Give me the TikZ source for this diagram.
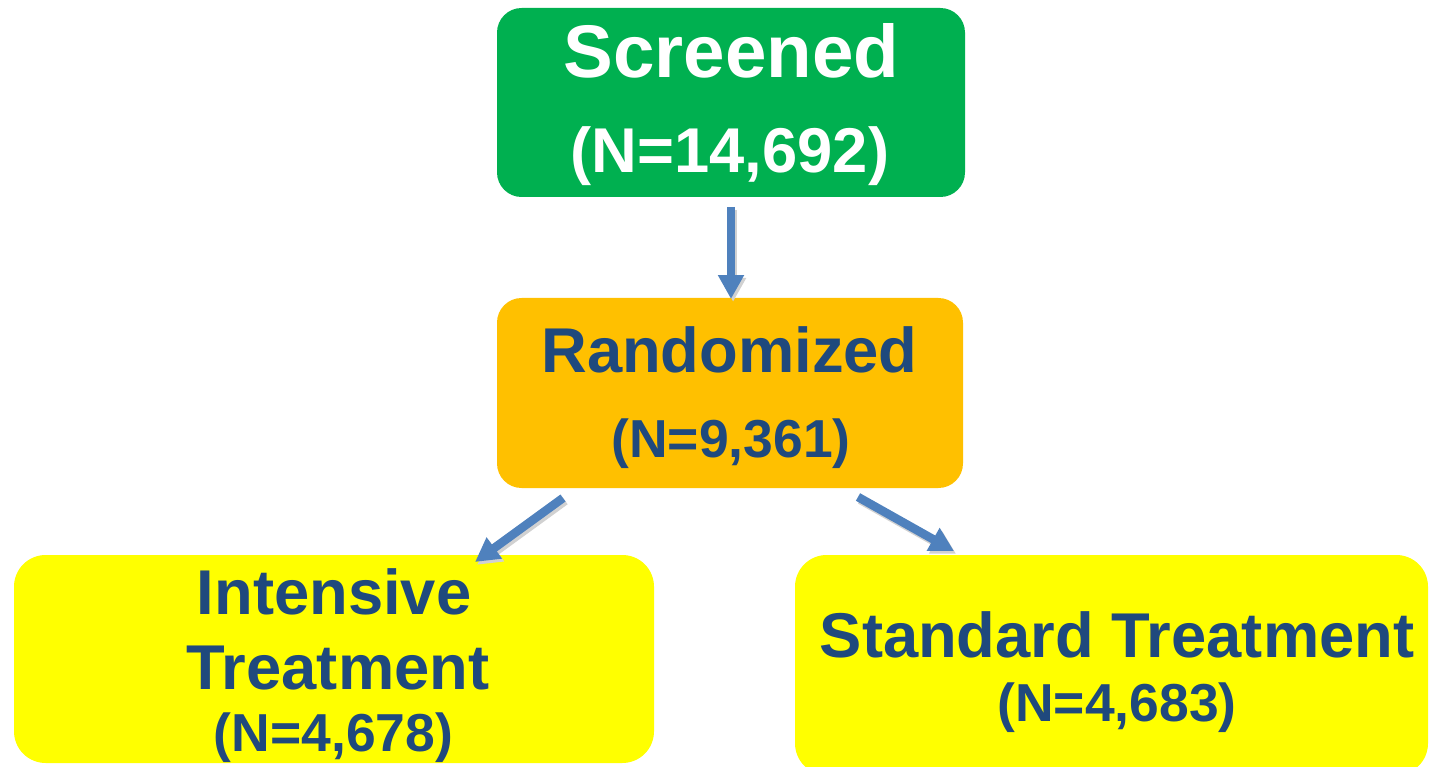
\documentclass[tikz,border=0pt]{standalone}
\usepackage{fontspec}
\setmainfont{Liberation Sans}
\usetikzlibrary{arrows.meta}
\definecolor{boxgreen}{RGB}{0,176,80}
\definecolor{boxorange}{RGB}{255,192,0}
\definecolor{boxyellow}{RGB}{255,255,0}
\definecolor{txtblue}{RGB}{31,73,125}
\definecolor{arrblue}{RGB}{79,129,189}
\tikzset{
  box/.style={draw=none, rectangle, rounded corners=#1, inner sep=0pt},
  lbl/.style={anchor=base, inner sep=0pt, font=\bfseries, text=txtblue},
  flow/.style={draw=arrblue, line width=2.45pt, -{Triangle[width=7pt,length=6.8pt]}},
  flowshadow/.style={draw=black!18, line width=2.45pt, -{Triangle[width=7pt,length=6.8pt]}},
}
\begin{document}
\begin{tikzpicture}[x=0.01cm,y=-0.01cm]
\useasboundingbox (0,0) rectangle (1430,767);
\clip (0,0) rectangle (1430,767);
% boxes
\fill[boxgreen, rounded corners=7pt] (497,8) rectangle (965,197);
\node[box=7pt, minimum width=468*0.01cm, minimum height=189*0.01cm] (scr) at (731,102.5) {};
\fill[boxorange, rounded corners=7pt] (497,298) rectangle (963,488);
\node[box=7pt, minimum width=466*0.01cm, minimum height=190*0.01cm] (rnd) at (730,393) {};
\fill[boxyellow, rounded corners=9pt] (14,555) rectangle (654,763);
\node[box=9pt, minimum width=640*0.01cm, minimum height=208*0.01cm] (int) at (334,659) {};
\fill[boxyellow, rounded corners=9pt] (795,555) rectangle (1428,775);
\node[box=9pt, minimum width=633*0.01cm, minimum height=220*0.01cm] (std) at (1111.5,665) {};
% texts
\node[lbl, text=white, font=\bfseries\fontsize{21.2}{25}\selectfont] (t1) at (731.5,78) {Screened};
\node[lbl, text=white, font=\bfseries\fontsize{18}{22}\selectfont] (t2) at (730,173) {(N=14,692)};
\node[lbl, font=\bfseries\fontsize{18}{22}\selectfont] (t3) at (729.5,372) {Randomized};
\node[lbl, font=\bfseries\fontsize{15.2}{18}\selectfont] (t4) at (731,457) {(N=9,361)};
\node[lbl, font=\bfseries\fontsize{18}{22}\selectfont] (t5) at (334,614) {Intensive};
\node[lbl, font=\bfseries\fontsize{18}{22}\selectfont] (t6) at (338,689) {Treatment};
\node[lbl, font=\bfseries\fontsize{15.2}{18}\selectfont] (t7) at (333.5,751) {(N=4,678)};
\node[lbl, font=\bfseries\fontsize{18}{22}\selectfont] (t8) at (1117,657) {Standard Treatment};
\node[lbl, font=\bfseries\fontsize{15.2}{18}\selectfont] (t9) at (1117,721) {(N=4,683)};
% arrows
\coordinate (a1s) at (731,207);
\coordinate (a1e) at (731,299);
\coordinate (a2s) at (563,498);
\coordinate (a2e) at (475,562);
\coordinate (a3s) at (858,497);
\coordinate (a3e) at (954,551);
\draw[flowshadow, transform canvas={xshift=0.6pt,yshift=-0.8pt}] (a1s) -- (a1e);
\draw[flowshadow, transform canvas={xshift=0.6pt,yshift=-0.8pt}] (a2s) -- (a2e);
\draw[flowshadow, transform canvas={xshift=0.6pt,yshift=-0.8pt}] (a3s) -- (a3e);
\draw[flow] (a1s) -- (a1e);
\draw[flow] (a2s) -- (a2e);
\draw[flow] (a3s) -- (a3e);
\end{tikzpicture}
\end{document}
